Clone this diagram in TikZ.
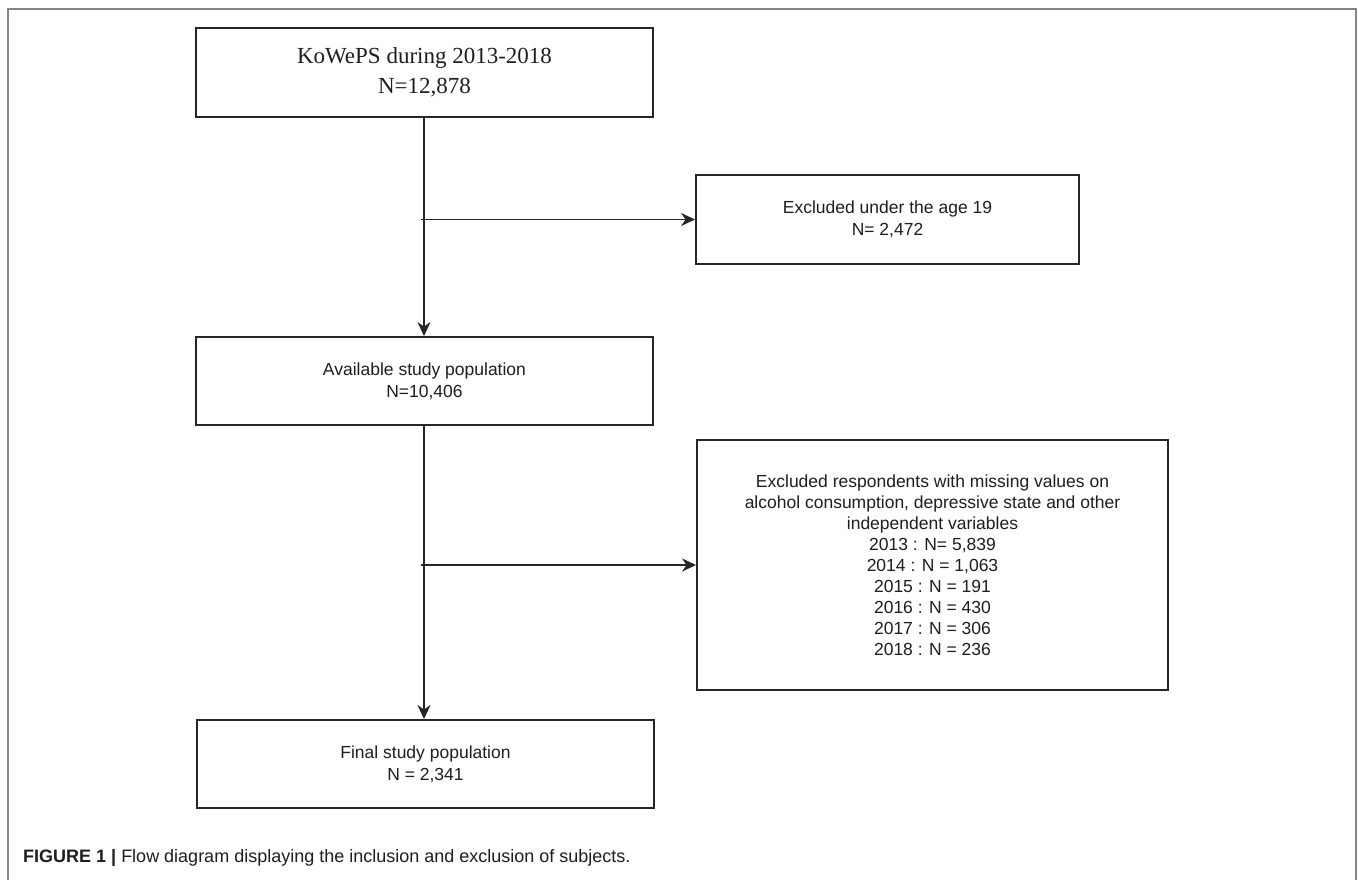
\documentclass[tikz,border=0pt]{standalone}
\usepackage{fontspec}
\setmainfont{Liberation Sans}
\newfontfamily\serifbox{Liberation Serif}
\usetikzlibrary{arrows.meta}
\definecolor{txt}{HTML}{1E1E1E}
\definecolor{edge}{HTML}{262626}
\definecolor{framegray}{HTML}{858585}
\tikzset{
  box/.style={draw=edge, line width=1.9pt, rectangle, inner sep=0pt, align=center,
    text=txt, font=\fontsize{17.5}{22}\selectfont},
  serbox/.style={box, font=\serifbox\fontsize{23}{30}\selectfont},
  link/.style={draw=edge, line width=1.8pt, -{Stealth[length=14pt,width=13pt,inset=4.5pt]}}
}
\begin{document}
\begin{tikzpicture}[x=1pt,y=-1pt]
\useasboundingbox (0,0) rectangle (1358,879);
\fill[white] (0,0) rectangle (1358,879);
% outer frame (open at the bottom)
\draw[framegray, line width=2pt] (8,885) -- (8,9) -- (1355.5,9) -- (1355.5,885);

\node[serbox, minimum width=457pt, minimum height=89pt] (kow) at (424.5,72.5)
  {KoWePS during 2013-2018\\N=12,878};
\node[box, minimum width=383pt, minimum height=89pt] (ex1) at (887.5,219.5)
  {Excluded under the age 19\\N= 2,472};
\node[box, minimum width=457pt, minimum height=88pt] (avail) at (424.5,381)
  {Available study population\\N=10,406};
\node[box, minimum width=471pt, minimum height=250pt, font=\fontsize{17.5}{21}\selectfont] (ex2) at (932.5,565)
  {Excluded respondents with missing values on\\alcohol consumption, depressive state and other\\independent variables\\2013 : N= 5,839\\2014 : N = 1,063\\2015 : N = 191\\2016 : N = 430\\2017 : N = 306\\2018 : N = 236};
\node[box, minimum width=457pt, minimum height=88pt] (final) at (425.5,764)
  {Final study population\\N = 2,341};

\coordinate (b1) at (421,219.5);
\coordinate (b2) at (421,565);

\draw[link] (kow.south -| 424,0) -- (avail.north -| 424,0);
\draw[link] (b1) -- (ex1.west);
\draw[link] (avail.south -| 424,0) -- (final.north -| 424,0);
\draw[link] (b2) -- (ex2.west);

\node[anchor=base west, inner sep=0pt, text=txt, font=\fontsize{18}{22}\selectfont] (cap) at (23,862)
  {\textbf{FIGURE 1 |} Flow diagram displaying the inclusion and exclusion of subjects.};
\end{tikzpicture}
\end{document}
